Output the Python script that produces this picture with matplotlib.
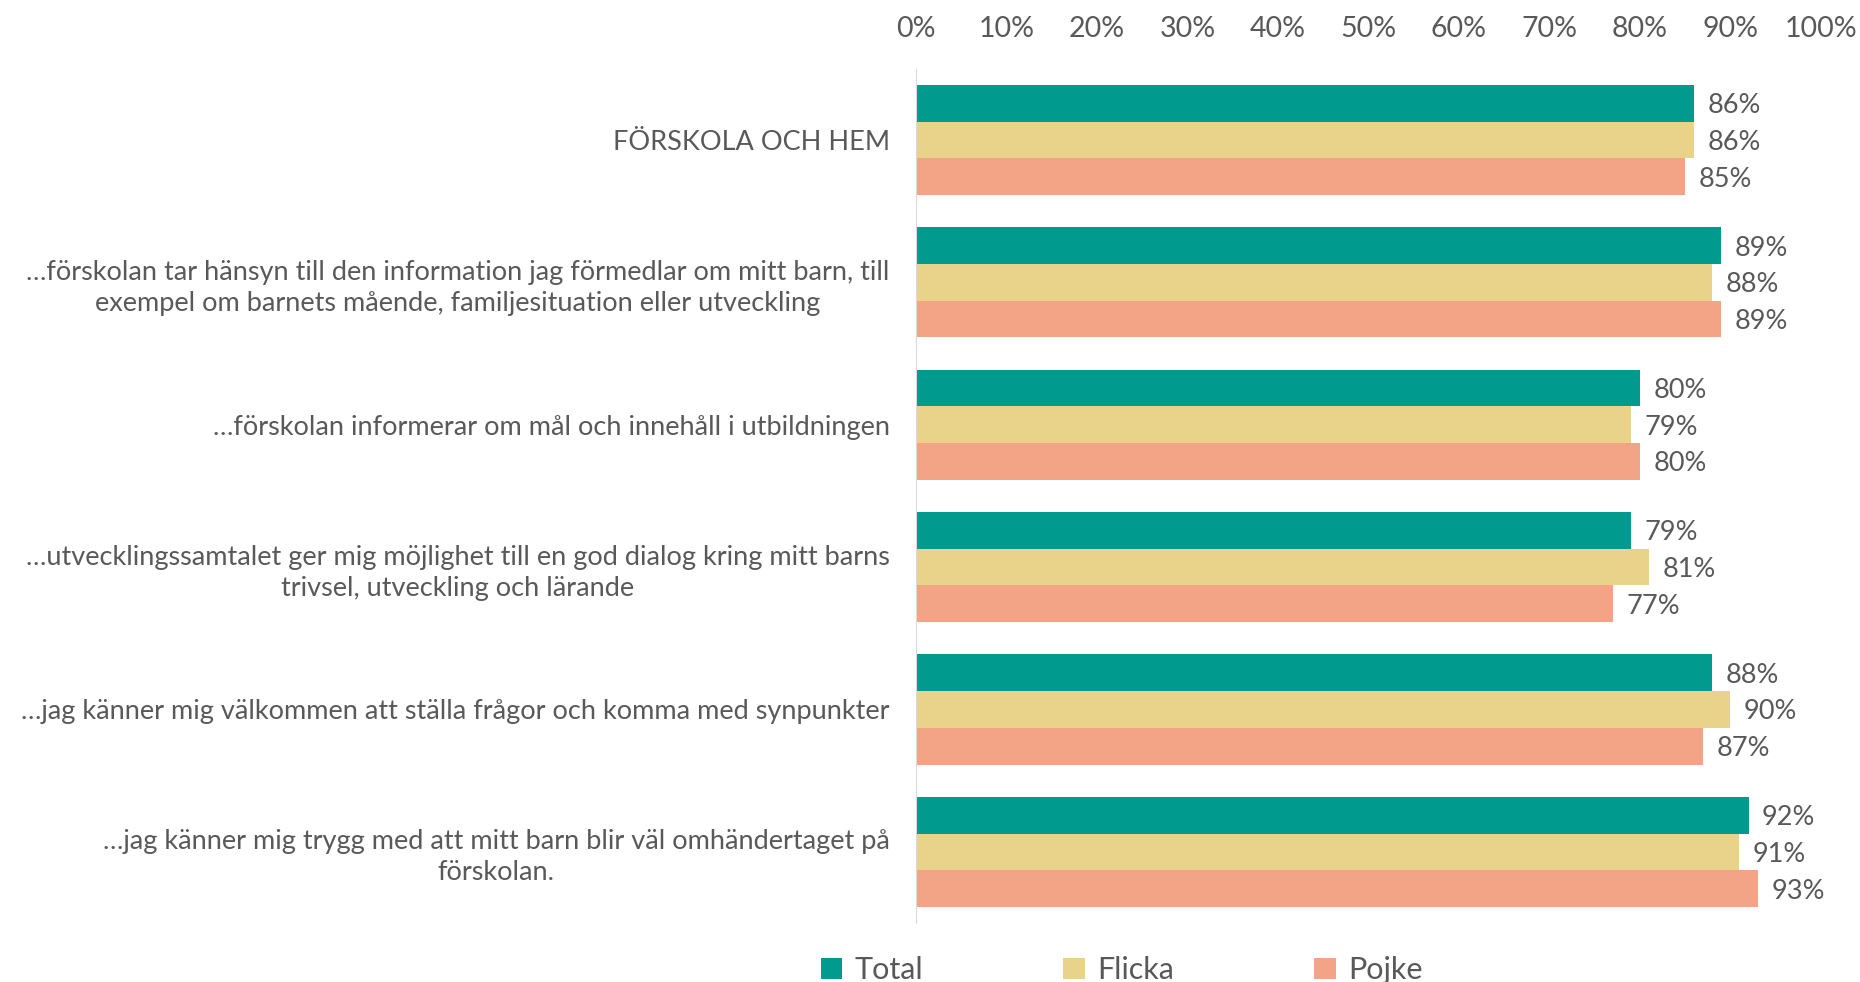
import matplotlib
matplotlib.use("Agg")
from matplotlib import pyplot as plt
import numpy as np

plt.rcParams['font.family'] = ['Lato', 'DejaVu Sans']

kategorier = [
    "FÖRSKOLA OCH HEM",
    "…förskolan tar hänsyn till den information jag förmedlar om mitt barn, till\nexempel om barnets mående, familjesituation eller utveckling",
    "…förskolan informerar om mål och innehåll i utbildningen",
    "…utvecklingssamtalet ger mig möjlighet till en god dialog kring mitt barns\ntrivsel, utveckling och lärande",
    "…jag känner mig välkommen att ställa frågor och komma med synpunkter",
    "…jag känner mig trygg med att mitt barn blir väl omhändertaget på\nförskolan.",
]
total = [86, 89, 80, 79, 88, 92]
flicka = [86, 88, 79, 81, 90, 91]
pojke = [85, 89, 80, 77, 87, 93]

serier = [("Total", total, "#009A8E"),
          ("Flicka", flicka, "#E9D38B"),
          ("Pojke", pojke, "#F4A486")]

textfarg = "#595959"
fs = 19.5

fig = plt.figure(figsize=(18.6, 9.82), dpi=100)
ax = fig.add_axes([0.4925, 0.06, 0.4865, 0.87])

y = np.arange(len(kategorier))
h = 0.258
for i, (namn, varden, farg) in enumerate(serier):
    pos = y + (i - 1) * h
    bars = ax.barh(pos, varden, height=h, color=farg, label=namn)
    for b, v in zip(bars, varden):
        ax.text(v + 1.5, b.get_y() + b.get_height() / 2, f"{v}%",
                va='center_baseline', ha='left', fontsize=fs, color=textfarg)

ax.set_xlim(0, 100)
ax.set_ylim(len(kategorier) - 0.5, -0.5)
ax.set_xticks(np.arange(0, 101, 10))
ax.set_xticklabels([f"{t}%" for t in range(0, 101, 10)])
ax.xaxis.tick_top()
ax.tick_params(axis='x', length=0, pad=19, labelsize=fs + 1, labelcolor=textfarg)
ax.set_yticks(y)
ax.set_yticklabels(kategorier, multialignment='center', linespacing=1.3)
ax.tick_params(axis='y', length=0, pad=19, labelsize=fs, labelcolor=textfarg)

for s in ['top', 'right', 'bottom']:
    ax.spines[s].set_visible(False)
ax.spines['left'].set_color('#D9D9D9')

fig.legend(loc='lower center', bbox_to_anchor=(0.603, -0.03), ncol=3,
           frameon=False, fontsize=fs + 2.5, labelcolor=textfarg,
           handlelength=0.7, handleheight=0.7, handletextpad=0.4,
           columnspacing=4.6)

fig.savefig("out.png", dpi=100)
